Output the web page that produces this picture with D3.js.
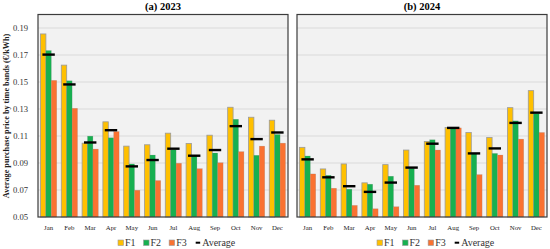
<!DOCTYPE html>
<html>
<head>
<meta charset="utf-8">
<script src="https://cdn.jsdelivr.net/npm/d3@7"></script>
<style>
  body { margin: 0; background: #fff; }
  text { font-family: "Liberation Serif", "DejaVu Serif", serif; }
</style>
</head>
<body>
<svg id="chart" width="550" height="249"></svg>
<script>

var months = ["Jan","Feb","Mar","Apr","May","Jun","Jul","Aug","Sep","Oct","Nov","Dec"];
var bands = ["F1","F2","F3"];
var yTicks = [0.05,0.07,0.09,0.11,0.13,0.15,0.17,0.19];

// 2023
var f1_2023 = [0.1856,0.1625,0.1047,0.1205,0.1025,0.1035,0.1121,0.1045,0.1106,0.1313,0.1239,0.1217];
var f2_2023 = [0.1733,0.1509,0.1099,0.1087,0.0893,0.0959,0.0998,0.0954,0.0974,0.1224,0.0957,0.1111];
var f3_2023 = [0.1512,0.1305,0.1003,0.1133,0.0698,0.0770,0.0898,0.0858,0.0902,0.0984,0.1025,0.1047];
var avg_2023 = [0.1703,0.1482,0.1052,0.1143,0.0875,0.0922,0.1006,0.0954,0.0996,0.1173,0.1077,0.1126];

// 2024
var f1_2024 = [0.1016,0.0856,0.0893,0.0753,0.0888,0.0996,0.1060,0.1163,0.1126,0.1089,0.1310,0.1436];
var f2_2024 = [0.0952,0.0809,0.0706,0.0743,0.0802,0.0861,0.1072,0.1160,0.0971,0.0971,0.1212,0.1266];
var f3_2024 = [0.0819,0.0713,0.0586,0.0561,0.0576,0.0735,0.0996,0.1160,0.0814,0.0959,0.1077,0.1126];
var avg_2024 = [0.0927,0.0794,0.0728,0.0686,0.0755,0.0866,0.1043,0.1160,0.0971,0.1008,0.1197,0.1273];

var colors = {F1: "#FFC000", F2: "#17B050", F3: "#FA7231"};

var svg = d3.select("#chart");

var y = d3.scaleLinear().domain([0.05, 0.2]).range([217, 14.5]);

function panel(x0, x1, title, series, avg, showY) {
  var g = svg.append("g");

  g.append("rect")
    .attr("x", x0).attr("y", y(0.2))
    .attr("width", x1 - x0).attr("height", y(0.05) - y(0.2))
    .style("fill", "#f2f2f2");

  // grid
  g.selectAll(".grid")
    .data(yTicks.slice(1))
    .enter()
    .append("line")
    .attr("x1", x0).attr("x2", x1)
    .attr("y1", function(d) { return y(d); })
    .attr("y2", function(d) { return y(d); })
    .style("stroke", "#d9d9d9")
    .style("stroke-width", 1.2);

  var x = d3.scaleBand().domain(months).range([x0, x1]).paddingInner(0.22).paddingOuter(0.12);
  var sub = d3.scaleBand().domain(bands).range([0, x.bandwidth()]);

  bands.forEach(function(b, k) {
    g.selectAll(".bar" + b)
      .data(series[k])
      .enter()
      .append("rect")
      .attr("x", function(d, i) { return x(months[i]) + sub(b); })
      .attr("y", function(d) { return y(d); })
      .attr("width", sub.bandwidth())
      .attr("height", function(d) { return y(0.05) - y(d); })
      .style("fill", colors[b])
      .style("stroke", b == "F1" ? "#9a9a9a" : "rgba(120,120,120,0.35)")
      .style("stroke-width", b == "F1" ? 0.8 : 0.5);
  });

  // average markers
  g.selectAll(".avg")
    .data(avg)
    .enter()
    .append("line")
    .attr("x1", function(d, i) { return x(months[i]) + x.bandwidth() / 2 - 6.2; })
    .attr("x2", function(d, i) { return x(months[i]) + x.bandwidth() / 2 + 6.2; })
    .attr("y1", function(d) { return y(d); })
    .attr("y2", function(d) { return y(d); })
    .style("stroke", "#000")
    .style("stroke-width", 2.4);

  g.append("rect")
    .attr("x", x0).attr("y", y(0.2))
    .attr("width", x1 - x0).attr("height", y(0.05) - y(0.2))
    .style("fill", "none")
    .style("stroke", "#3c3c3c")
    .style("stroke-width", 1.2);

  var xa = g.append("g")
    .attr("transform", "translate(0," + y(0.05) + ")")
    .call(d3.axisBottom(x).tickSize(0).tickPadding(8));
  xa.select(".domain").remove();
  xa.selectAll("text")
    .style("font-family", "Liberation Serif, serif")
    .style("font-size", "6.8px")
    .style("fill", "#222");

  if (showY) {
    var ya = g.append("g")
      .attr("transform", "translate(" + x0 + ",0)")
      .call(d3.axisLeft(y).tickValues(yTicks).tickFormat(d3.format(".2f")).tickSize(0).tickPadding(10));
    ya.select(".domain").remove();
    ya.selectAll("text")
      .style("font-family", "Liberation Serif, serif")
      .style("font-size", "8.6px")
      .style("fill", "#333");
  }

  svg.append("text")
    .attr("x", (x0 + x1) / 2)
    .attr("y", 10)
    .attr("text-anchor", "middle")
    .style("font-size", "10.5px")
    .style("font-weight", "bold")
    .text(title);

  // legend
  var lg = svg.append("g").attr("transform", "translate(" + (x0 + 80) + ",246)");
  var cx = 0;
  bands.forEach(function(b) {
    lg.append("rect")
      .attr("x", cx).attr("y", -6)
      .attr("width", 5.5).attr("height", 5.5)
      .style("fill", colors[b])
      .style("stroke", "#9a9a9a")
      .style("stroke-width", 0.6);
    var t = lg.append("text")
      .attr("x", cx + 7).attr("y", 0)
      .style("font-size", "10px")
      .style("fill", "#333")
      .text(b);
    cx += 7 + t.node().getComputedTextLength() + 8;
  });
  lg.append("line")
    .attr("x1", cx + 1).attr("x2", cx + 5.5)
    .attr("y1", -3.3).attr("y2", -3.3)
    .style("stroke", "#000")
    .style("stroke-width", 2);
  lg.append("text")
    .attr("x", cx + 7.5).attr("y", 0)
    .style("font-size", "10px")
    .style("fill", "#333")
    .text("Average");
}

panel(38, 288, "(a) 2023", [f1_2023, f2_2023, f3_2023], avg_2023, true);
panel(297, 547, "(b) 2024", [f1_2024, f2_2024, f3_2024], avg_2024, false);

svg.append("text")
  .attr("transform", "translate(9,116) rotate(-90)")
  .attr("text-anchor", "middle")
  .style("font-size", "8.2px")
  .style("font-weight", "bold")
  .style("fill", "#222")
  .text("Average purchase price by time bands (€/kWh)");

</script>
</body>
</html>
